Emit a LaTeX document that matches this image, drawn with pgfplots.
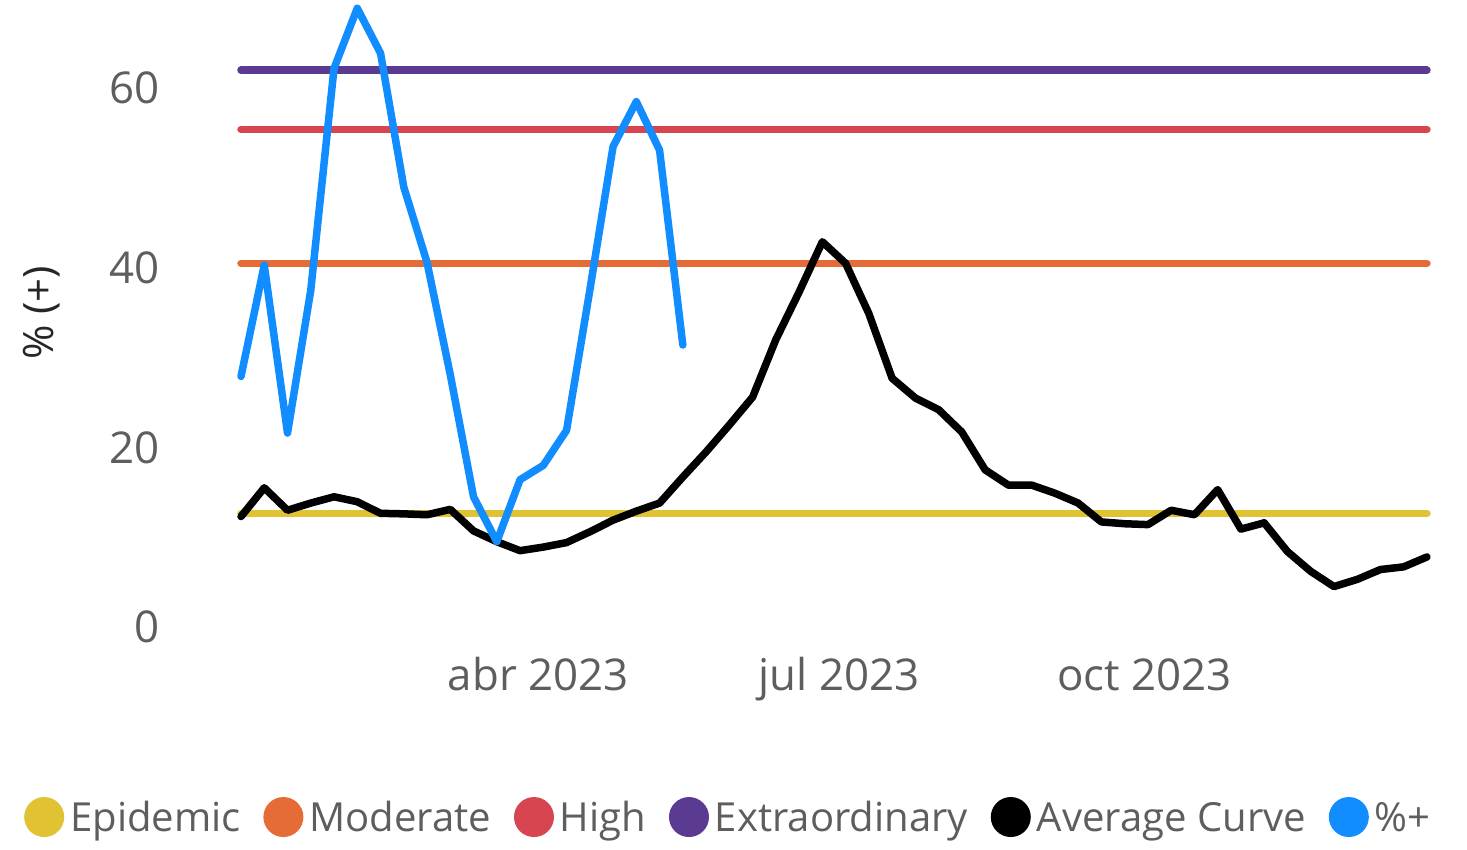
\documentclass[border=0pt]{standalone}
\usepackage{fontspec}
\setmainfont{Open Sans}
\usepackage{pgfplots}
\pgfplotsset{compat=1.18}
\definecolor{cEpi}{RGB}{225,194,51}
\definecolor{cMod}{RGB}{230,108,55}
\definecolor{cHigh}{RGB}{214,69,80}
\definecolor{cExt}{RGB}{91,59,145}
\definecolor{cBlue}{RGB}{17,141,255}
\definecolor{cTxt}{RGB}{96,94,92}
\begin{document}
\begin{tikzpicture}
\path[use as bounding box] (-241bp,-223bp) rectangle (1226bp,627bp);
\begin{axis}[
  at={(0,0)}, anchor=south west,
  x=3.322bp, y=8.98bp,
  xmin=0, xmax=357, ymin=0, ymax=70,
  clip=false,
  axis line style={draw=none},
  major tick style={draw=none},
  minor tick style={draw=none},
  ytick={0,20,40,60},
  xtick={89.5,180,272},
  xticklabels={abr 2023, jul 2023, oct 2023},
  /pgf/number format/assume math mode=true,
  ticklabel style={font=\fontsize{44}{52}\selectfont, text=cTxt},
  yticklabel style={anchor=east, inner sep=0pt, xshift=-81bp},
  xticklabel style={anchor=base, inner sep=0pt, yshift=-63bp},
  ylabel={\% (+)},
  ylabel style={font=\fontsize{42}{50}\selectfont, text=black!85, at={(axis description cs:-0.168,0.5)}, anchor=center, rotate=0},
  legend columns=-1,
  legend image code/.code={\fill[#1, draw=none] (20bp,14.5bp) circle (20bp);},
  legend style={at={(axis description cs:-0.1855,-0.3023)}, anchor=west, draw=none, fill=none,
    font=\fontsize{40.2}{48}\selectfont, text=cTxt, column sep=6bp,
    nodes={inner sep=0pt, anchor=base west},
    /tikz/every even column/.append style={column sep=22.8bp}},
  every axis plot/.append style={line width=7.5bp, line cap=round, line join=round},
]
\addplot[cEpi] coordinates {(0,12.66) (357,12.66)};
\addlegendentry{Epidemic}
\addplot[cMod] coordinates {(0,40.5) (357,40.5)};
\addlegendentry{Moderate}
\addplot[cHigh] coordinates {(0,55.4) (357,55.4)};
\addlegendentry{High}
\addplot[cExt] coordinates {(0,62.0) (357,62.0)};
\addlegendentry{Extraordinary}
\addplot[black] coordinates {
(0,12.3) (7,15.5) (14,13.0) (21,13.8) (28,14.5) (35,13.95) (42,12.66) (49,12.6)
(56,12.5) (63,13.1) (70,10.7) (77,9.5) (84,8.5) (91,8.9) (98,9.4) (105,10.6)
(112,11.9) (119,12.9) (126,13.8) (133,16.7) (140,19.5) (147,22.5) (154,25.6)
(161,32.0) (168,37.3) (175,42.9) (182,40.5) (189,34.9) (196,27.7) (203,25.5)
(210,24.2) (217,21.7) (224,17.5) (231,15.8) (238,15.8) (245,14.9) (252,13.8)
(259,11.7) (266,11.5) (273,11.4) (280,13.0) (287,12.5) (294,15.3) (301,10.9)
(308,11.6) (315,8.4) (322,6.2) (329,4.5) (336,5.3) (343,6.4) (350,6.7) (357,7.8)
};
\addlegendentry{Average Curve}
\addplot[cBlue] coordinates {
(0,27.9) (7,40.3) (14,21.6) (21,37.5) (28,62.2) (35,68.9) (42,63.9) (49,49.0)
(56,40.6) (63,28.1) (70,14.5) (77,9.5) (84,16.4) (91,18.0) (98,21.9) (105,37.5)
(112,53.5) (119,58.5) (126,53.1) (133,31.4)
};
\addlegendentry{\%+}
\end{axis}
\end{tikzpicture}
\end{document}
